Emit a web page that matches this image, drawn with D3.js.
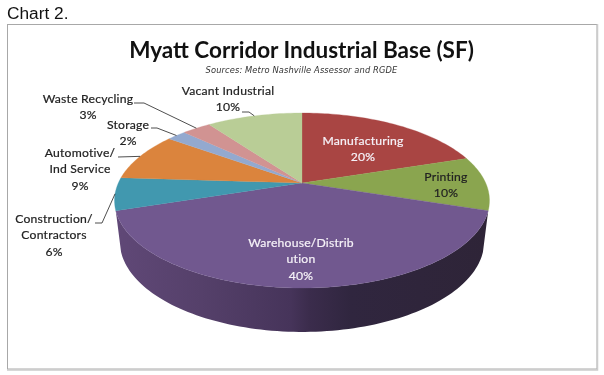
<!DOCTYPE html>
<html>
<head>
<meta charset="utf-8">
<script src="https://cdn.jsdelivr.net/npm/d3@7"></script>
<style>
html,body{margin:0;padding:0;background:#fff;}
svg{display:block;filter:blur(.3px);}
.lbl{font-family:Lato,"Open Sans",sans-serif;font-size:12.2px;text-anchor:middle;fill:#222;stroke:#222;stroke-width:.2px;letter-spacing:.2px;}
.lbl.inv{fill:#f6f2f8;stroke:#f6f2f8;}
.lead{fill:none;stroke:#222;stroke-width:.8px;}
</style>
</head>
<body>
<svg id="chart" width="604" height="375"></svg>
<script>
// Pie data, clockwise from 12 o'clock
const categories = ["Manufacturing", "Printing", "Warehouse/Distribution", "Construction/Contractors",
  "Automotive/Ind Service", "Storage", "Waste Recycling", "Vacant Industrial"];
const shares = [20, 10, 40, 6, 9, 2, 3, 10];
const labelLines = [["Manufacturing"], ["Printing"], ["Warehouse/Distrib", "ution"], ["Construction/", "Contractors"],
  ["Automotive/", "Ind Service"], ["Storage"], ["Waste Recycling"], ["Vacant Industrial"]];
const colours = ["#A94543", "#8AA54F", "#71588F", "#4198AF", "#DB843D", "#93A9CF", "#D19392", "#B9CD96"];

// Label placement, same order as categories: x centre, y of first line
const labelX = [363, 446, 301, 54, 80, 128, 88, 228];
const labelY = [145, 181, 247, 223, 157, 129, 103, 95];
// Elbow of each leader line, only the outside labels have one [start x, elbow x, y]
const leaders = [null, null, null, [95, 102, 223], [118, 118, 157], [151, 157, 128], [134, 144, 103], [242, 249, 112]];

const svg = d3.select("#chart");

// Excel's 3D pie has perspective, so the apex is not the ellipse centre.
// Circle point (u, v) goes through y = y0 + A*v/(1-k*v), x = cx + B*u/(1-k*v)
const K = 0.2, CX = 302;
const topRing = { y0: 183, A: 84, B: 183.7 };
const bottomRing = { y0: 223.4, A: 86.8, B: 178.5 };
function project(ring, a) {
  const u = Math.sin(a), v = -Math.cos(a), d = 1 - K * v;
  return [CX + ring.B * u / d, ring.y0 + ring.A * v / d];
}
function ringPoints(ring, a0, a1) {
  const n = Math.max(2, Math.ceil(Math.abs(a1 - a0) * 40));
  return d3.range(n + 1).map(i => project(ring, a0 + (a1 - a0) * i / n));
}

const arcs = d3.pie().sort(null).value(d => d)(shares);
const line = d3.line();

const defs = svg.append("defs");
const grad = defs.append("linearGradient").attr("id", "wall")
  .attr("gradientUnits", "userSpaceOnUse").attr("x1", 115).attr("x2", 489).attr("y1", 0).attr("y2", 0);
[[0, "#604877"], [0.23, "#55406A"], [0.47, "#46345A"], [0.52, "#3B2C4C"], [0.63, "#30263F"], [1, "#2E2437"]]
  .forEach(s => grad.append("stop").attr("offset", s[0]).attr("stop-color", s[1]));

// page caption and chart frame
svg.append("text").attr("x", 7).attr("y", 19).attr("font-family", "Liberation Sans, Arial, sans-serif")
  .attr("font-size", 17.3).attr("fill", "#111").text("Chart 2.");
svg.append("rect").attr("x", 7.5).attr("y", 24.5).attr("width", 589.5).attr("height", 344.5)
  .attr("fill", "#fff").attr("stroke", "#a8a8a8").attr("stroke-width", 1);
svg.append("path").attr("d", "M597.5,24V370H7").attr("fill", "none").attr("stroke", "#cccccc").attr("stroke-width", 1.5);

svg.append("text").attr("x", 301.5).attr("y", 57.5).attr("text-anchor", "middle")
  .attr("font-family", "Lato, sans-serif").attr("font-weight", 700).attr("font-size", 22.5).attr("fill", "#111")
  .text("Myatt Corridor Industrial Base (SF)");
svg.append("text").attr("x", 301.5).attr("y", 73).attr("text-anchor", "middle")
  .attr("font-family", "DejaVu Sans, sans-serif").attr("font-style", "italic").attr("font-size", 8.3).attr("fill", "#333")
  .attr("letter-spacing", 0.12)
  .text("Sources: Metro  Nashville Assessor and RGDE");

// side wall, only the front slice shows one
const front = arcs[2];
const wallPts = ringPoints(topRing, front.startAngle, front.endAngle)
  .concat(ringPoints(bottomRing, front.endAngle, front.startAngle));
svg.append("path").attr("d", line(wallPts) + "Z").attr("fill", "url(#wall)");

// top face
svg.append("g").selectAll("path").data(arcs).join("path")
  .attr("d", d => line([[CX, topRing.y0], ...ringPoints(topRing, d.startAngle, d.endAngle)]) + "Z")
  .attr("fill", (d, i) => colours[i])
  .attr("stroke", (d, i) => colours[i]).attr("stroke-width", 0.3);

// leader lines run from the label to the rim at the slice's middle angle
svg.append("g").selectAll("path").data(arcs.filter((d, i) => leaders[i])).join("path")
  .attr("class", "lead")
  .attr("d", d => {
    const l = leaders[d.index], end = project(topRing, (d.startAngle + d.endAngle) / 2);
    return line([[l[0], l[2]], [l[1], l[2]], end]);
  });

// labels: name lines then percentage
const lineGap = 16.4;
const labels = svg.append("g").selectAll("g").data(arcs).join("g");
labels.each(function (d, i) {
  const g = d3.select(this);
  const rows = labelLines[i].concat(d3.format("d")(shares[i]) + "%");
  g.selectAll("text").data(rows).join("text")
    .attr("class", i === 0 || i === 2 ? "lbl inv" : "lbl")
    .attr("x", labelX[i])
    .attr("y", (r, j) => labelY[i] + j * lineGap)
    .text(r => r);
});
</script>
</body>
</html>
